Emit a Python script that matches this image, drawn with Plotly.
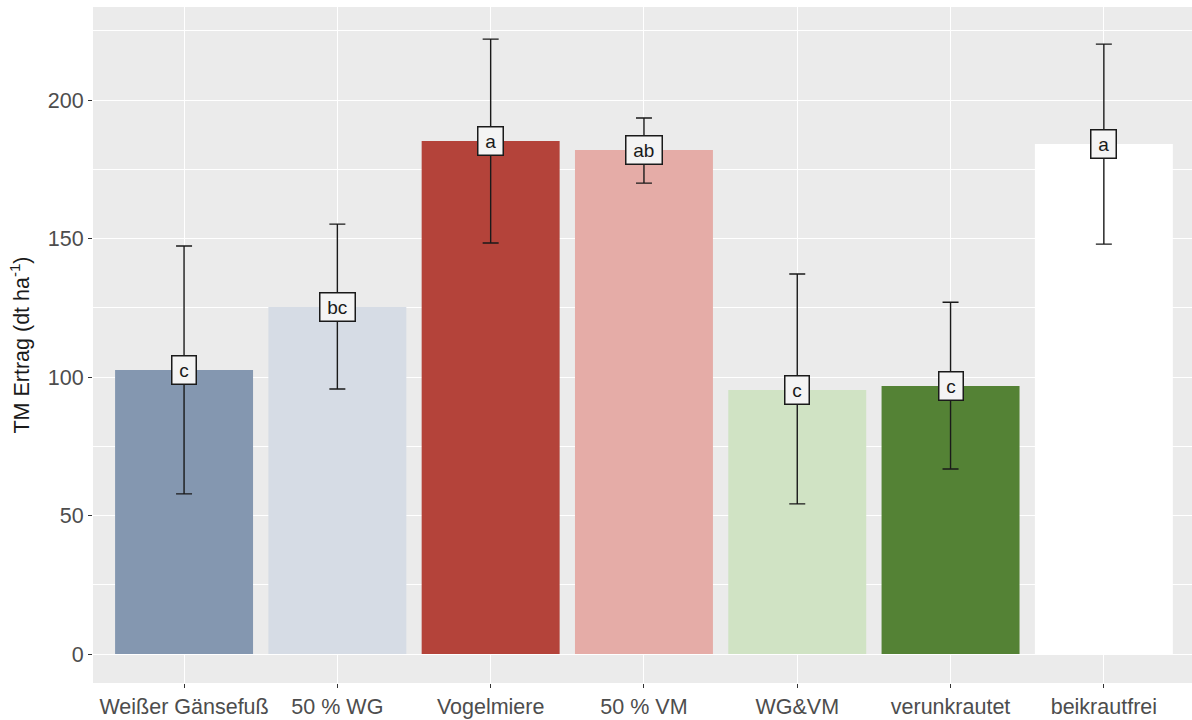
import plotly.graph_objects as go

# Treatments and dry-matter yield (dt/ha) with error bar limits and letter groups
categories = ["Weißer Gänsefuß", "50 % WG", "Vogelmiere", "50 % VM", "WG&VM", "verunkrautet", "beikrautfrei"]
yield_mean = [102.5, 125.3, 185.2, 182.0, 95.3, 96.8, 184.1]
err_low = [57.8, 95.7, 148.4, 170.0, 54.2, 66.8, 148.0]
err_high = [147.3, 155.2, 222.0, 193.5, 137.2, 127.0, 220.2]
letters = ["c", "bc", "a", "ab", "c", "c", "a"]
bar_colors = ["#8497B0", "#D6DCE5", "#B4433A", "#E5ACA7", "#D0E3C4", "#548235", "#FFFFFF"]

FONT = "Arial, Liberation Sans, sans-serif"
THIN = "\u2009"

fig = go.Figure()
fig.add_trace(go.Bar(
    x=categories,
    y=yield_mean,
    width=0.9,
    marker=dict(color=bar_colors, line=dict(width=0)),
    error_y=dict(
        type="data",
        symmetric=False,
        array=[h - m for h, m in zip(err_high, yield_mean)],
        arrayminus=[m - l for m, l in zip(yield_mean, err_low)],
        color="#1a1a1a",
        thickness=1.4,
        width=8,
    ),
    showlegend=False,
    hoverinfo="skip",
))

# Letter labels centred on each bar's mean
for cat, m, lab in zip(categories, yield_mean, letters):
    fig.add_annotation(
        x=cat, y=m, text=THIN + lab + THIN, showarrow=False,
        font=dict(family=FONT, size=19, color="#1a1a1a"),
        bgcolor="#F4F4F4", bordercolor="#1a1a1a", borderwidth=1.5, borderpad=3,
        xanchor="center", yanchor="middle",
    )

fig.update_layout(
    width=1192, height=720,
    margin=dict(l=93, r=0, t=7, b=37),
    paper_bgcolor="white",
    plot_bgcolor="#EBEBEB",
    font=dict(family=FONT, size=22, color="#4D4D4D"),
    bargap=0.1,
)

fig.update_xaxes(
    type="category",
    range=[-0.594, 6.575],
    showgrid=True, gridcolor="white", gridwidth=1.1,
    ticks="outside", ticklen=4, tickcolor="#333333", tickwidth=1.1,
    tickfont=dict(family=FONT, size=21.5, color="#4D4D4D"),
    showline=False, zeroline=False,
)

fig.update_yaxes(
    range=[-10.47, 233.6],
    tickvals=[0, 50, 100, 150, 200],
    showgrid=True, gridcolor="white", gridwidth=1.1,
    minor=dict(tickvals=[25, 75, 125, 175, 225], showgrid=True, gridcolor="white", gridwidth=0.55, ticks=""),
    ticks="outside", ticklen=4, tickcolor="#333333", tickwidth=1.1,
    tickfont=dict(family=FONT, size=21.5, color="#4D4D4D"),
    zeroline=False, showline=False,
    title=dict(text="TM Ertrag (dt ha<sup>-1</sup>)", font=dict(family=FONT, size=21.5, color="#1a1a1a"), standoff=12),
)

fig.write_html("out.html")
